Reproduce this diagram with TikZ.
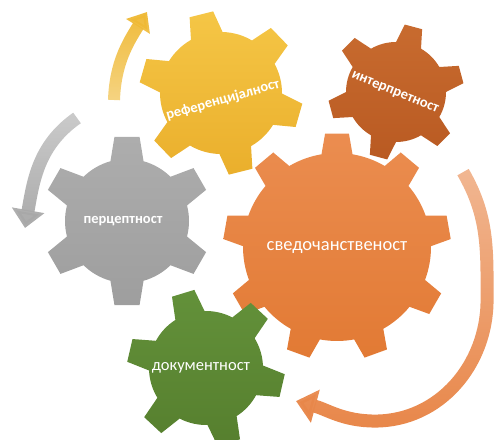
\documentclass[tikz,border=0pt]{standalone}
\usepackage{fontspec}
\setmainfont{Carlito}
\usetikzlibrary{arrows.meta, fadings}

\definecolor{ylwtop}{HTML}{F5C646}
\definecolor{ylwbot}{HTML}{EAAF2C}
\definecolor{browntop}{HTML}{C86B2F}
\definecolor{brownbot}{HTML}{B95A22}
\definecolor{graytop}{HTML}{ADADAD}
\definecolor{graybot}{HTML}{9E9E9E}
\definecolor{orngtop}{HTML}{EB8D50}
\definecolor{orngbot}{HTML}{E27A34}
\definecolor{grntop}{HTML}{63913A}
\definecolor{grnbot}{HTML}{567F2E}
\definecolor{ylwarr}{HTML}{EFB935}
\definecolor{grayarr}{HTML}{A8A8A8}
\definecolor{orngarr}{HTML}{E8874A}

\tikzfading[name=paleatbottom, top color=transparent!0, bottom color=transparent!40]
\tikzfading[name=paleattop, top color=transparent!40, bottom color=transparent!0]

% teeth, body radius, tip radius, first tooth, base half angle, tip half angle
\newcommand{\gearpath}[6]{%
	({#4-#5}:#2pt)
	\foreach \k [evaluate=\k as \a using #4+(\k-1)*360/#1] in {1,...,#1}{
		-- ({\a-#6}:#3pt) -- ({\a+#6}:#3pt) -- ({\a+#5}:#2pt)
		arc[start angle=\a+#5, end angle=\a+360/#1-#5, radius=#2pt]
	} -- cycle}

\begin{document}
\begin{tikzpicture}[x=1pt, y=1pt, inner sep=1pt,
		bandarrow/.style={line width=#1},
		boldlabel/.style={font=\bfseries\fontsize{14.5}{17}\selectfont}]
		\tikzstyle{every node}=[text=white]
			\useasboundingbox (0, 0) rectangle (494, 439);
			
			\shade[shift={(337, 192)}, top color=orngtop, bottom color=orngbot] \gearpath{9}{94}{114}{90}{9.5}{6};
			\shade[shift={(127, 218)}, top color=graytop, bottom color=graybot] \gearpath{6}{62}{85}{90}{15.5}{8.5};
			\shade[shift={(221, 346)}, top color=ylwtop, bottom color=ylwbot] \gearpath{6}{61}{82}{104}{15.5}{8.5};
			\shade[shift={(396, 347)}, top color=browntop, bottom color=brownbot] \gearpath{6}{50}{68}{15}{15}{7.6};
			\shade[shift={(206, 71)}, top color=grntop, bottom color=grnbot] \gearpath{6}{57}{79}{107}{15.5}{8.5};
			
			\node (svedok) at (337, 191) {\fontsize{18.5}{21}\selectfont сведочанственост};
			\node[boldlabel] (percept) at (123, 218) {перцептност};
			\node (dokument) at (201, 71) {\fontsize{16.5}{19}\selectfont документност};
			\node[boldlabel, rotate=16] (referenc) at (223, 339) {референцијалност};
			\node[boldlabel, rotate=-22] (interpret) at (395, 346) {интерпретност};
			
			\coordinate (ylwstart) at (114, 339);
			\coordinate (ylwtip) at (147, 427);
			\coordinate (graystart) at (77, 321);
			\coordinate (graytip) at (25, 211);
			\coordinate (orngstart) at (463, 267);
			\coordinate (orngright) at (487, 139);
			\coordinate (orngbottom) at (375, 18);
			\coordinate (orngtip) at (296, 38);
			
			\draw[ylwarr, bandarrow=12pt, path fading=paleatbottom, -{Triangle[width=27pt, length=17pt]}] (ylwstart) to[out=88, in=238] (ylwtip);
			\draw[grayarr, bandarrow=13pt, path fading=paleattop, -{Triangle[width=32pt, length=18pt]}] (graystart) to[out=215, in=80] (graytip);
			\draw[orngarr, bandarrow=13pt, path fading=paleattop, -{Triangle[width=33pt, length=20pt]}] (orngstart) to[out=-60, in=90] (orngright) to[out=-90, in=0] (orngbottom) to[out=180, in=-15] (orngtip);
		\end{tikzpicture}
\end{document}
